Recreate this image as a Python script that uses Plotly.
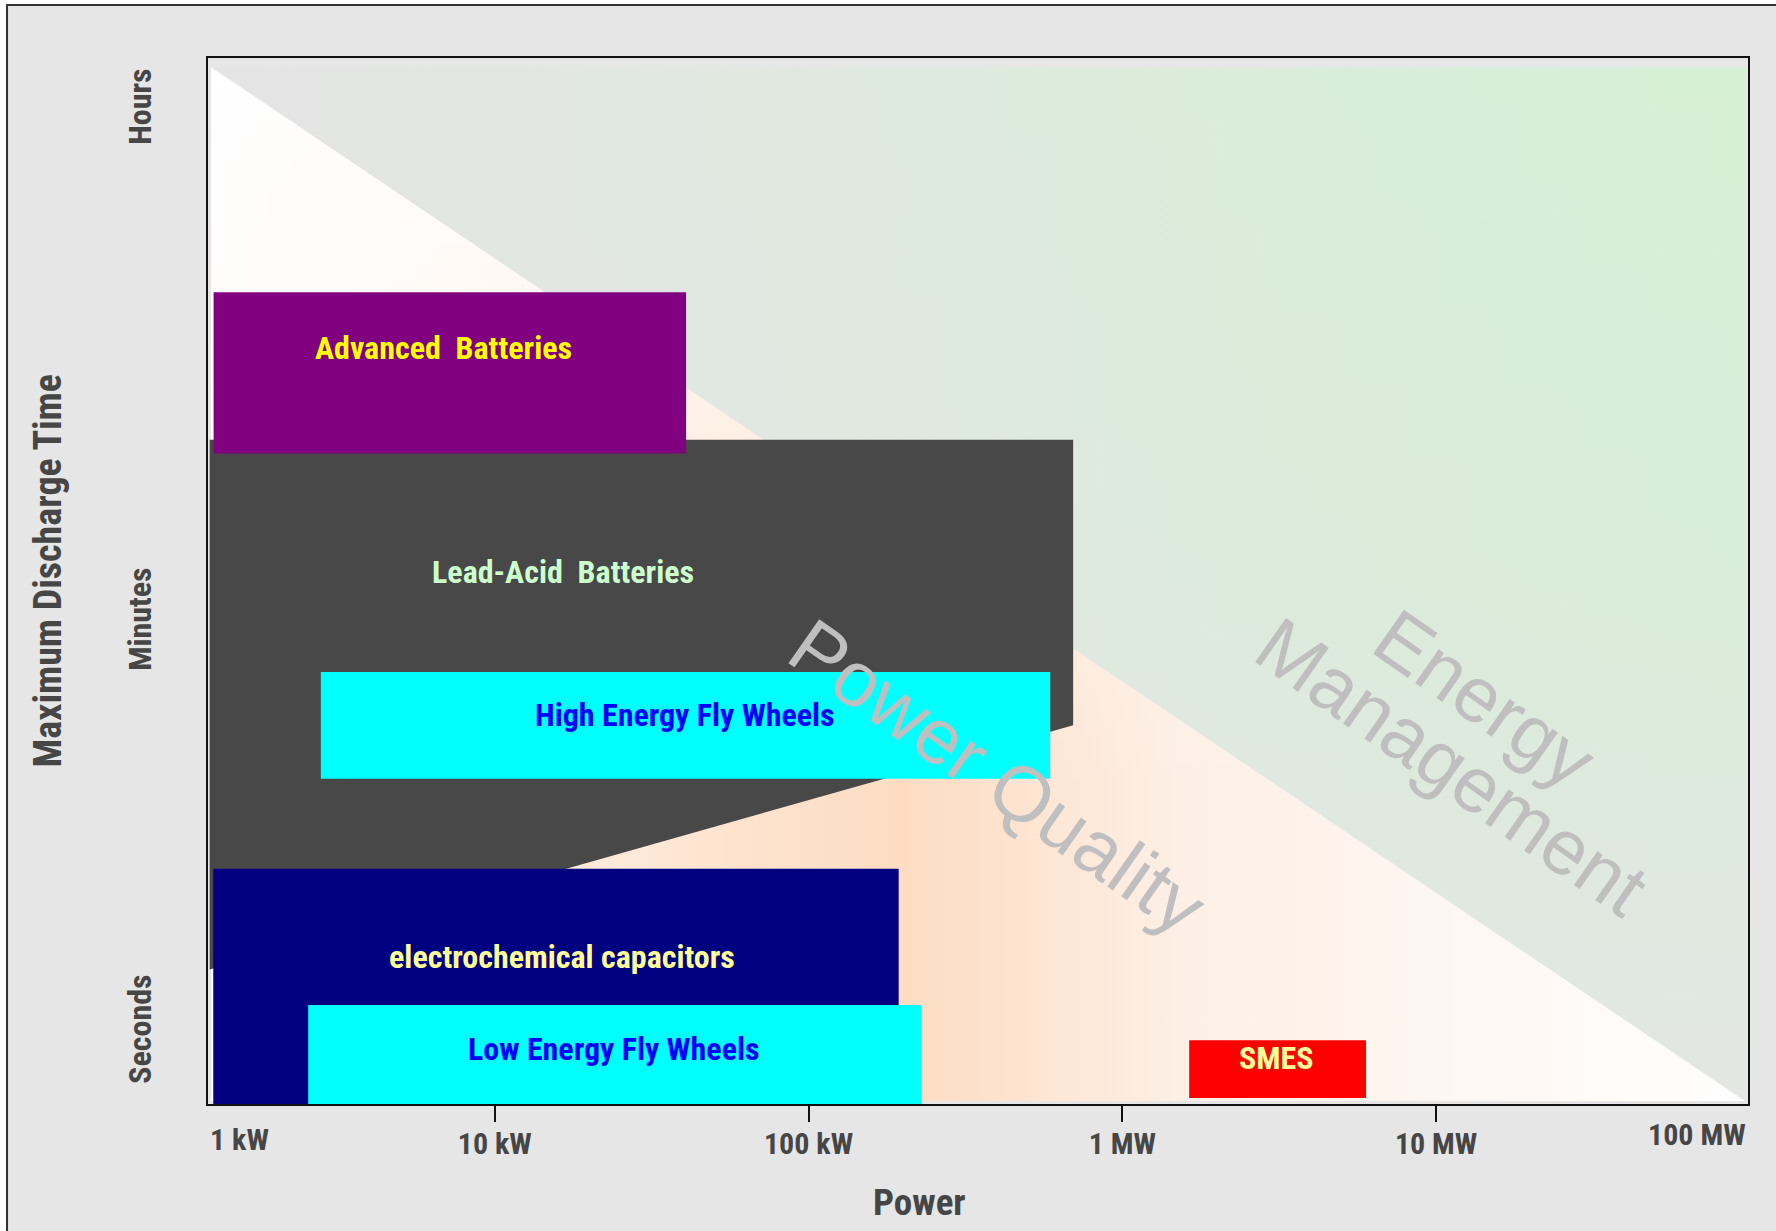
import numpy as np
import plotly.graph_objects as go

# ---- axis extents -------------------------------------------------------
# power axis is logarithmic (W); discharge time is on a relative 0-100 scale
POWER_LOG_RANGE = [3.086, 7.994]
TIME_RANGE = [0, 100]

power_tick_values = [1e4, 1e5, 1e6, 1e7]
power_tick_text = ["10 kW", "100 kW", "1 MW", "10 MW"]
time_tick_values = [6.7, 45.9, 94.9]
time_tick_text = ["Seconds", "Minutes", "Hours"]

# ---- storage technologies (drawn in this order) ---------------------------
technologies = ["Lead-Acid\u00a0 Batteries", "Advanced\u00a0 Batteries", "High Energy Fly Wheels",
                "electrochemical capacitors", "Low Energy Fly Wheels", "SMES"]
power_min_w = [1.234e3, 1.27e3, 2.79e3, 1.267e3, 2.543e3, 1.633e6]
power_max_w = [6.97e5, 4.07e4, 5.89e5, 1.937e5, 2.293e5, 5.98e6]
time_top = [63.5, 77.6, 41.3, 22.5, 9.46, 6.1]
# lower edge at the low-power and high-power ends (lead-acid slopes)
time_bottom_low_p = [12.85, 62.2, 31.1, -0.3, 0.0, 0.57]
time_bottom_high_p = [36.2, 62.2, 31.1, -0.3, 0.0, 0.57]
fill_colors = ["#484848", "#800080", "#00ffff", "#000080", "#00ffff", "#ff0000"]
label_colors = ["#ccffcc", "#ffff00", "#0000ff", "#ffff99", "#0000ff", "#ffff99"]
label_power_w = [1.652e4, 6.86e3, 4.05e4, 1.64e4, 2.405e4, 3.1e6]
label_time = [50.9, 72.3, 37.2, 14.1, 5.3, 4.4]

# ---- application regions (split by the diagonal) --------------------------
region_power_w = [1.248e3, 9.65e7]
region_time = [0.29, 99.1]
region_labels = ["Power Quality", "Energy", "Management"]
region_label_power_w = [4.02e5, 1.43e7, 1.125e7]
region_label_time = [31.3, 38.7, 32.2]

NARROW = "Liberation Sans Narrow, Arial Narrow, Roboto Condensed, Liberation Sans, Arial, sans-serif"
REGULAR = "Liberation Sans, Arial, sans-serif"
TEXT_GREY = "#464646"

fig = go.Figure()

p0, p1 = region_power_w
t0, t1 = region_time

# upper-right triangle: grey fading to pale green
upper_x = [p0, p1, p1, p0]
upper_y = [t1, t1, t0, t1]
fig.add_trace(go.Scatter(
    x=upper_x, y=upper_y, mode="lines", fill="toself", line=dict(width=0),
    fillgradient=dict(type="horizontal",
                      colorscale=[[0, "#e4e4e4"], [0.35, "#e0e8e0"], [0.7, "#d9edd9"],
                                  [1, "#d5f0d5"]]),
    hoverinfo="skip"))
fig.add_trace(go.Scatter(
    x=upper_x, y=upper_y, mode="lines", fill="toself", line=dict(width=0),
    fillgradient=dict(type="vertical",
                      colorscale=[[0, "rgba(229,229,229,0.9)"], [0.5, "rgba(229,229,229,0.25)"],
                                  [1, "rgba(229,229,229,0)"]]),
    hoverinfo="skip"))

# lower-left triangle: white - peach - white
lower_x = [p0, p0, p1, p0]
lower_y = [t1, t0, t0, t1]
fig.add_trace(go.Scatter(
    x=lower_x, y=lower_y, mode="lines", fill="toself", line=dict(width=0),
    fillgradient=dict(type="horizontal",
                      colorscale=[[0, "#fffcfa"], [0.45, "#fddcc2"], [0.63, "#fdefe5"],
                                  [1, "#ffffff"]]),
    hoverinfo="skip"))
fig.add_trace(go.Scatter(
    x=lower_x, y=lower_y, mode="lines", fill="toself", line=dict(width=0),
    fillgradient=dict(type="vertical",
                      colorscale=[[0, "rgba(255,255,255,0)"], [0.3, "rgba(255,255,255,0)"],
                                  [1, "rgba(255,255,255,0.9)"]]),
    hoverinfo="skip"))

# technology areas
for name, pl, ph, tt, tbl, tbh, fc in zip(technologies, power_min_w, power_max_w, time_top,
                                          time_bottom_low_p, time_bottom_high_p, fill_colors):
    fig.add_trace(go.Scatter(
        x=[pl, ph, ph, pl, pl], y=[tt, tt, tbh, tbl, tt], mode="lines", fill="toself",
        fillcolor=fc, line=dict(width=0), name=name, hoverinfo="name"))

annotations = []
for name, lp, lt, lc in zip(technologies, label_power_w, label_time, label_colors):
    annotations.append(dict(
        x=np.log10(lp), y=lt, xref="x", yref="y", text=name, showarrow=False,
        font=dict(family=NARROW, size=32, color=lc, weight="bold"),
        xanchor="center", yanchor="middle"))

for name, lp, lt in zip(region_labels, region_label_power_w, region_label_time):
    annotations.append(dict(
        x=np.log10(lp), y=lt, xref="x", yref="y", text=name, showarrow=False,
        textangle=35, align="center",
        font=dict(family=REGULAR, size=78, color="#bfbfbf")))

# end labels of the power axis and axis titles
annotations += [
    dict(x=0, y=-0.034, xref="paper", yref="paper", text="1 kW", showarrow=False,
         xanchor="left", yanchor="middle",
         font=dict(family=NARROW, size=30, color=TEXT_GREY, weight="bold")),
    dict(x=1, y=-0.0287, xref="paper", yref="paper", text="100 MW", showarrow=False,
         xanchor="right", yanchor="middle",
         font=dict(family=NARROW, size=30, color=TEXT_GREY, weight="bold")),
    dict(x=0.4617, y=-0.0937, xref="paper", yref="paper", text="Power", showarrow=False,
         xanchor="center", yanchor="middle",
         font=dict(family=NARROW, size=37, color=TEXT_GREY, weight="bold")),
    dict(x=-0.1042, y=0.5096, xref="paper", yref="paper", text="Maximum Discharge Time",
         showarrow=False, textangle=-90, xanchor="center", yanchor="middle",
         font=dict(family=NARROW, size=38, color=TEXT_GREY, weight="bold")),
]

fig.update_layout(
    width=1776, height=1231,
    margin=dict(l=208, r=28, t=58, b=127, pad=0),
    paper_bgcolor="white", plot_bgcolor="rgba(0,0,0,0)",
    showlegend=False,
    annotations=annotations,
    shapes=[dict(type="rect", xref="paper", yref="paper", x0=-0.1305, y0=-0.2, x1=1.2, y1=1.0507,
                 fillcolor="#e6e6e6", line=dict(color="#333333", width=2), layer="below")],
)

fig.update_xaxes(
    type="log", range=POWER_LOG_RANGE, tickvals=power_tick_values, ticktext=power_tick_text,
    ticks="outside", ticklen=16, tickwidth=2, tickcolor="#111111",
    showline=True, linewidth=2, linecolor="#111111", mirror=True,
    showgrid=False, zeroline=False, ticklabelstandoff=-4,
    tickfont=dict(family=NARROW, size=30, color=TEXT_GREY, weight="bold"))
fig.update_yaxes(
    range=TIME_RANGE, tickvals=time_tick_values, ticktext=time_tick_text, tickangle=-90,
    ticks="", showline=True, linewidth=2, linecolor="#111111", mirror=True,
    showgrid=False, zeroline=False, ticklabelstandoff=42,
    tickfont=dict(family=NARROW, size=32, color=TEXT_GREY, weight="bold"))

fig.write_html("out.html")
